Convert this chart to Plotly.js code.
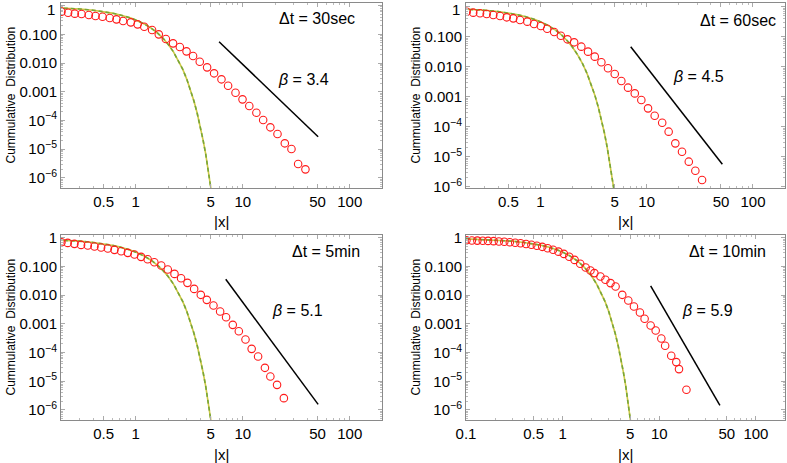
<!DOCTYPE html>
<html>
<head>
<meta charset="utf-8">
<script src="https://cdn.plot.ly/plotly-3.0.1.min.js"></script>
<style>body{margin:0;background:#fff;} #plot{width:787px;height:463px;}</style>
</head>
<body>
<div id="plot"></div>
<script>
// gaussian reference curve
var gaussX = [0.1, 0.2, 0.3, 0.4, 0.5, 0.6, 0.7, 0.8, 0.9, 1, 1.2, 1.4, 1.6, 1.8, 2, 2.25, 2.5, 2.75, 3, 3.25, 3.5, 3.75, 4, 4.25, 4.5, 4.75, 5, 5.25];
var gaussY = [0.92, 0.841, 0.764, 0.689, 0.617, 0.549, 0.484, 0.424, 0.368, 0.317, 0.23, 0.162, 0.11, 0.0719, 0.0455, 0.0244, 0.0124, 0.00596, 0.0027, 0.00115, 4.65e-4, 1.77e-4, 6.3e-5, 2.1e-5, 6.8e-6, 2.0e-6, 5.7e-7, 1.5e-7];

// dt = 30sec
var x30 = [0.202, 0.233, 0.269, 0.311, 0.364, 0.42, 0.489, 0.571, 0.66, 0.761, 0.898, 1.04, 1.2, 1.42, 1.64, 1.91, 2.23, 2.58, 2.98, 3.43, 3.96, 4.64, 5.39, 6.32, 7.29, 8.55, 9.94, 11.5, 13.4, 15.5, 18.1, 21.1, 24.7, 28.5, 32.9, 38.5];
var y30 = [0.615, 0.567, 0.524, 0.509, 0.47, 0.434, 0.411, 0.37, 0.332, 0.291, 0.261, 0.222, 0.184, 0.141, 0.0998, 0.0685, 0.0484, 0.0361, 0.0255, 0.0175, 0.0111, 0.00706, 0.00437, 0.0027, 0.00162, 0.000925, 0.000542, 0.000318, 0.000186, 0.000103, 5.74e-5, 3.36e-5, 1.59e-5, 1.01e-5, 3.03e-6, 1.97e-6];
var line30X = [6.0, 50.6];
var line30Y = [0.0552, 2.7e-5];

// dt = 60sec
var x60 = [0.203, 0.234, 0.271, 0.313, 0.361, 0.418, 0.483, 0.557, 0.644, 0.755, 0.873, 1.01, 1.16, 1.35, 1.56, 1.8, 2.08, 2.43, 2.81, 3.25, 3.75, 4.33, 5.01, 5.78, 6.68, 7.73, 8.91, 10.3, 11.9, 14.0, 16.1, 18.6, 21.5, 24.9, 28.7, 33.2];
var y60 = [0.682, 0.632, 0.601, 0.571, 0.529, 0.49, 0.442, 0.409, 0.36, 0.317, 0.265, 0.228, 0.185, 0.144, 0.108, 0.0817, 0.0649, 0.0465, 0.0317, 0.0216, 0.014, 0.00883, 0.00571, 0.00334, 0.002, 0.00129, 0.000776, 0.000409, 0.000233, 0.000136, 6.83e-5, 2.79e-5, 1.47e-5, 6.83e-6, 3.42e-6, 1.67e-6];
var line60X = [7.08, 51.5];
var line60Y = [0.0464, 5.58e-6];

// dt = 5min
var x5m = [0.202, 0.231, 0.267, 0.308, 0.356, 0.411, 0.474, 0.548, 0.632, 0.73, 0.842, 0.972, 1.12, 1.29, 1.49, 1.73, 1.99, 2.3, 2.65, 3.04, 3.51, 4.05, 4.61, 5.32, 6.14, 6.98, 8.06, 9.18, 10.6, 12.1, 13.9, 16.1, 18.1, 20.9, 24.2];
var y5m = [0.703, 0.666, 0.615, 0.567, 0.538, 0.497, 0.458, 0.423, 0.38, 0.341, 0.299, 0.261, 0.217, 0.18, 0.141, 0.108, 0.0784, 0.0553, 0.0391, 0.0269, 0.0166, 0.0103, 0.00688, 0.00436, 0.0027, 0.00171, 0.000925, 0.000557, 0.000285, 0.000135, 7.29e-5, 2.94e-5, 1.47e-5, 7.51e-6, 2.58e-6];
var line5mX = [6.93, 50.6];
var line5mY = [0.0361, 1.56e-6];

// dt = 10min
var x10m = [0.101, 0.115, 0.131, 0.149, 0.169, 0.193, 0.219, 0.249, 0.284, 0.323, 0.367, 0.418, 0.475, 0.541, 0.615, 0.7, 0.796, 0.906, 1.03, 1.17, 1.33, 1.52, 1.73, 1.94, 2.13, 2.46, 2.77, 3.13, 3.53, 4.14, 4.78, 5.47, 6.31, 7.05, 8.14, 9.18, 10.5, 11.5, 13.3, 15.0, 16.0, 19.1];
var y10m = [0.82, 0.81, 0.8, 0.79, 0.78, 0.765, 0.745, 0.725, 0.7, 0.675, 0.645, 0.61, 0.57, 0.53, 0.485, 0.435, 0.385, 0.33, 0.275, 0.22, 0.17, 0.125, 0.092, 0.0727, 0.0588, 0.045, 0.0344, 0.0264, 0.0201, 0.0103, 0.00655, 0.00405, 0.0025, 0.00151, 0.000882, 0.00059, 0.000311, 0.000172, 7.74e-5, 4.66e-5, 2.65e-5, 5.06e-6];
var line10mX = [8.14, 42.4];
var line10mY = [0.0213, 1.44e-6];

var dtLabels = ['Δt = 30sec', 'Δt = 60sec', 'Δt = 5min', 'Δt = 10min'];
var betaLabels = ['3.4', '4.5', '5.1', '5.9'];

var yTickVals = [1e-6, 1e-5, 1e-4, 0.001, 0.01, 0.1, 1];
var yTickText = ['10<sup>−6</sup>', '10<sup>−5</sup>', '10<sup>−4</sup>', '0.001', '0.010', '0.100', '1'];
var xTickVals = [0.5, 1, 5, 10, 50, 100];
var xTickVals4 = [0.1, 0.5, 1, 5, 10, 50, 100];

var minorVals = [];
for (var e = -7; e <= 2; e++) {
    for (var m = 2; m <= 9; m++) minorVals.push(m * Math.pow(10, e));
}

var W = 787, H = 463;
// plot boxes in pixels: [left, right, top, bottom]
var boxes = [[61, 382, 3, 188], [466, 785, 3, 188], [61, 382, 235, 420], [466, 785, 235, 420]];
var yRanges = [[-6.355, 0.091], [-6.043, 0.123], [-6.35, 0.098], [-6.35, 0.098]];
var xRanges = [[-0.699, 2.301], [-0.699, 2.301], [-0.699, 2.301], [-1, 2.301]];

var series = [[x30, y30, line30X, line30Y], [x60, y60, line60X, line60Y],
              [x5m, y5m, line5mX, line5mY], [x10m, y10m, line10mX, line10mY]];

var font = 'Liberation Sans, Arial, sans-serif';
var traces = [];
var layout = {
    width: W, height: H,
    margin: {l: 0, r: 0, t: 0, b: 0},
    paper_bgcolor: 'white', plot_bgcolor: 'white',
    showlegend: false,
    font: {family: font, size: 15, color: '#000'},
    annotations: []
};

series.forEach(function (s, i) {
    var n = i + 1;
    var xa = 'x' + (n > 1 ? n : ''), ya = 'y' + (n > 1 ? n : '');
    traces.push({x: gaussX, y: gaussY, xaxis: xa, yaxis: ya, mode: 'lines', type: 'scatter',
        line: {color: 'rgb(205,200,70)', width: 1.6}, hoverinfo: 'skip'});
    traces.push({x: gaussX, y: gaussY, xaxis: xa, yaxis: ya, mode: 'lines', type: 'scatter',
        line: {color: 'rgb(120,165,55)', width: 1.6, dash: '4px,3px'}, hoverinfo: 'skip'});
    traces.push({x: s[0], y: s[1], xaxis: xa, yaxis: ya, mode: 'markers', type: 'scatter',
        marker: {symbol: 'circle-open', size: 7.5, color: '#ff1a1a', line: {width: 1.1}}});
    traces.push({x: s[2], y: s[3], xaxis: xa, yaxis: ya, mode: 'lines', type: 'scatter',
        line: {color: '#000', width: 1.5}});

    var b = boxes[i];
    var top = i < 2;
    var axCommon = {
        type: 'log', showgrid: false, zeroline: false, showline: true, linecolor: '#8a8a8a',
        linewidth: 1, mirror: 'allticks', ticks: 'inside', ticklen: 4, tickcolor: '#aaa',
        tickfont: {size: 15, family: font}, automargin: false, ticklabeloverflow: 'allow',
        minor: {tickmode: 'array', tickvals: minorVals, ticks: 'inside', ticklen: 2, tickcolor: '#bbb'}
    };
    layout['xaxis' + (n > 1 ? n : '')] = Object.assign({}, axCommon, {
        domain: [b[0] / W, b[1] / W], range: xRanges[i], anchor: ya,
        tickmode: 'array', tickvals: i === 3 ? xTickVals4 : xTickVals,
        ticktext: (i === 3 ? xTickVals4 : xTickVals).map(String)
    });
    // the top "1" label sits a little lower in the top row, drawn as an annotation there
    layout['yaxis' + (n > 1 ? n : '')] = Object.assign({}, axCommon, {
        domain: [1 - b[3] / H, 1 - b[2] / H], range: yRanges[i], anchor: xa,
        tickmode: 'array', tickvals: yTickVals,
        ticktext: top ? yTickText.slice(0, 6).concat(['']) : yTickText
    });
    if (top) {
        layout.annotations.push({xref: 'paper', yref: 'paper', x: (b[0] - 4) / W, y: 1 - 9 / H,
            text: yTickText[6], showarrow: false, font: {size: 15}, xanchor: 'right', yanchor: 'middle'});
    }

    var cx = (b[0] + b[1]) / 2, cy = (b[2] + b[3]) / 2;
    layout.annotations.push({xref: 'paper', yref: 'paper', x: cx / W, y: 1 - (b[3] + 34) / H,
        text: '|x|', showarrow: false, font: {size: 15}, xanchor: 'center', yanchor: 'middle'});
    layout.annotations.push({xref: 'paper', yref: 'paper', x: (b[0] - 51) / W, y: 1 - cy / H,
        text: 'Cummulative  Distribution', textangle: -90, showarrow: false,
        font: {size: 12}, xanchor: 'center', yanchor: 'middle'});
});

var dtPos = [[317, 18], [738, 20], [326, 251], [727, 251]];
var betaPos = [[303, 79], [698, 77], [297, 310], [707, 310]];
for (var k = 0; k < 4; k++) {
    layout.annotations.push({xref: 'paper', yref: 'paper', x: dtPos[k][0] / W, y: 1 - dtPos[k][1] / H,
        text: dtLabels[k], showarrow: false, font: {size: 16}, xanchor: 'center', yanchor: 'middle'});
    layout.annotations.push({xref: 'paper', yref: 'paper', x: betaPos[k][0] / W, y: 1 - betaPos[k][1] / H,
        text: '<i>β</i> = ' + betaLabels[k], showarrow: false, font: {size: 16}, xanchor: 'center', yanchor: 'middle'});
}

Plotly.newPlot('plot', traces, layout, {staticPlot: true});
</script>
</body>
</html>
